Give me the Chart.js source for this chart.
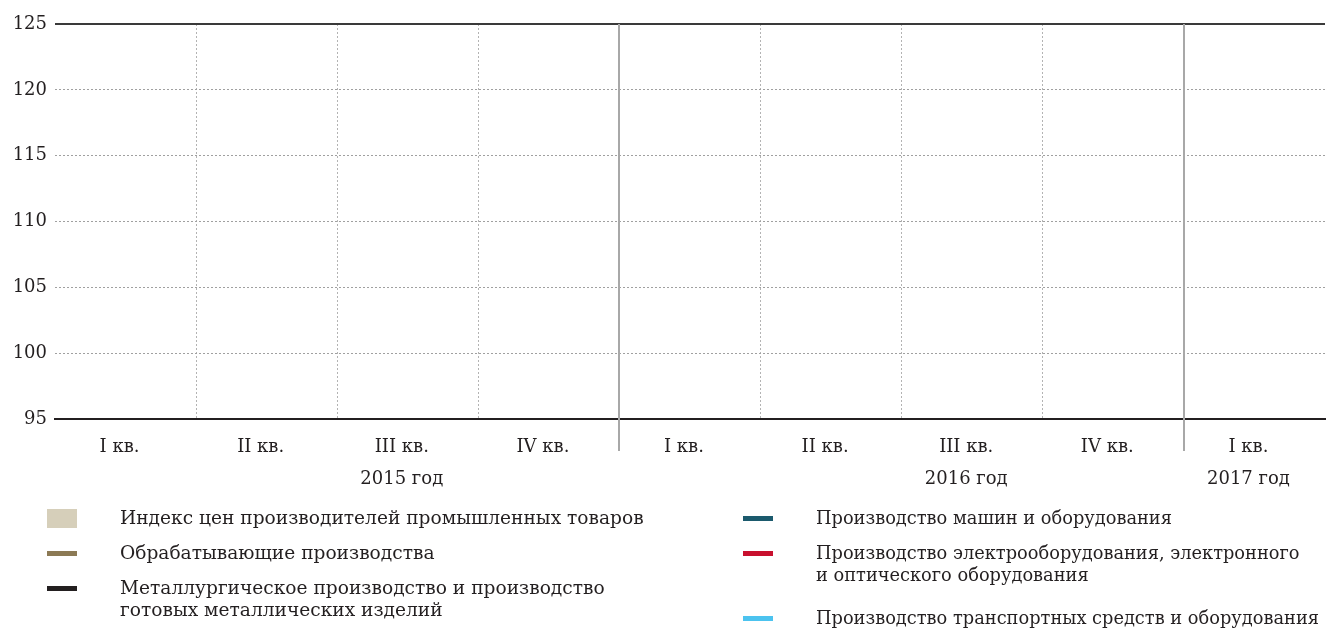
<!DOCTYPE html>
<html lang="ru">
<head>
<meta charset="utf-8">
<script src="https://cdn.jsdelivr.net/npm/chart.js@4"></script>
<style>
  html, body { margin: 0; padding: 0; background: #fff; }
  body {
    width: 1327px; height: 629px; position: relative; overflow: hidden;
    font-family: "DejaVu Serif", serif; color: #231f20;
  }
  #chartBox { position: absolute; left: 0; top: 0; width: 1327px; height: 494px; }
  #legend { position: absolute; left: 0; top: 0; width: 1327px; height: 629px; }
  .item { position: absolute; display: flex; align-items: flex-start; line-height: 22px; white-space: pre; }
  .swatch { width: 30px; margin-right: 43px; flex: none; }
</style>
</head>
<body>
<div id="chartBox"><canvas id="chart" width="1327" height="494"></canvas></div>
<div id="legend"></div>

<script>
// categories
const quarters = ["I кв.", "II кв.", "III кв.", "IV кв.", "I кв.", "II кв.", "III кв.", "IV кв.", "I кв."];
const years = ["", "", "2015 год", "", "", "", "2016 год", "", "2017 год"];

// value axis
const yMin = 95;
const yMax = 125;
const yStep = 5;

// series (the reference shows no marks, only the frame and the legend)
const seriesNames = [
  "Индекс цен производителей промышленных товаров",
  "Обрабатывающие производства",
  "Металлургическое производство и производство\nготовых металлических изделий",
  "Производство машин и оборудования",
  "Производство электрооборудования, электронного\nи оптического оборудования",
  "Производство транспортных средств и оборудования"
];
const ppiValues = [null, null, null, null, null, null, null, null, null];
const manufacturingValues = [null, null, null, null, null, null, null, null, null];
const metallurgyValues = [null, null, null, null, null, null, null, null, null];
const machineryValues = [null, null, null, null, null, null, null, null, null];
const electricalValues = [null, null, null, null, null, null, null, null, null];
const transportValues = [null, null, null, null, null, null, null, null, null];

const seriesColors = ["#d6cfba", "#8c7a55", "#231f20", "#1b5a6d", "#c8102e", "#4cc3ef"];

// legend layout (two columns, like the original)
const legendSlots = [
  { left: 47, top: 507, size: 18.6 },
  { left: 47, top: 542, size: 18.6 },
  { left: 47, top: 577, size: 18.6 },
  { left: 743, top: 507, size: 17.8 },
  { left: 743, top: 542, size: 17.8 },
  { left: 743, top: 607, size: 17.8 }
];

const textColor = "#231f20";
const tickFont = { family: "DejaVu Serif", size: 18, lineHeight: 1.75 };

// solid top rule and year separators, placed with the chart's own scales
const frameLines = {
  id: "frameLines",
  afterDraw(chart) {
    const { ctx, chartArea, scales } = chart;
    const x = scales.x;
    const y = scales.y;
    ctx.save();

    const yTop = y.getPixelForValue(yMax);
    ctx.strokeStyle = "#3a3a3a";
    ctx.lineWidth = 2;
    ctx.beginPath();
    ctx.moveTo(chartArea.left, yTop);
    ctx.lineTo(chartArea.right, yTop);
    ctx.stroke();

    ctx.strokeStyle = "#a8a8a8";
    ctx.lineWidth = 2;
    quarters.forEach((q, i) => {
      if (i === 0 || q !== quarters[0]) return;
      const px = Math.round((x.getPixelForValue(i - 1) + x.getPixelForValue(i)) / 2);
      ctx.beginPath();
      ctx.moveTo(px, chartArea.top);
      ctx.lineTo(px, chartArea.bottom + 32);
      ctx.stroke();
    });
    ctx.restore();
  }
};

const ctx = document.getElementById("chart").getContext("2d");
const chart = new Chart(ctx, {
  type: "bar",
  data: {
    labels: quarters.map((q, i) => [q, years[i]]),
    datasets: [
      { type: "bar", label: seriesNames[0], data: ppiValues, backgroundColor: seriesColors[0] },
      { type: "line", label: seriesNames[1], data: manufacturingValues, borderColor: seriesColors[1], borderWidth: 5, pointRadius: 0 },
      { type: "line", label: seriesNames[2], data: metallurgyValues, borderColor: seriesColors[2], borderWidth: 5, pointRadius: 0 },
      { type: "line", label: seriesNames[3], data: machineryValues, borderColor: seriesColors[3], borderWidth: 5, pointRadius: 0 },
      { type: "line", label: seriesNames[4], data: electricalValues, borderColor: seriesColors[4], borderWidth: 5, pointRadius: 0 },
      { type: "line", label: seriesNames[5], data: transportValues, borderColor: seriesColors[5], borderWidth: 5, pointRadius: 0 }
    ]
  },
  options: {
    responsive: false,
    animation: false,
    layout: { padding: { top: 24, right: 2, left: 0, bottom: 0 } },
    plugins: {
      legend: { display: false },
      tooltip: { enabled: false }
    },
    scales: {
      x: {
        offset: true,
        grid: {
          offset: true,
          drawTicks: false,
          color: (c) => (c.type !== "tick" || c.index === 0) ? "transparent" : "#b3b3b3"
        },
        border: { display: true, color: "#231f20", width: 2, dash: [2, 2] },
        ticks: { color: textColor, font: tickFont, padding: 13, maxRotation: 0, autoSkip: false, labelOffset: -6 },
        afterFit: (scale) => { scale.height = 75; }
      },
      y: {
        min: yMin,
        max: yMax,
        ticks: { stepSize: yStep, color: textColor, font: { family: "DejaVu Serif", size: 18 }, padding: 8 },
        grid: {
          drawTicks: false,
          color: (c) => (c.tick && (c.tick.value === yMin || c.tick.value === yMax)) ? "transparent" : "#a0a0a0"
        },
        border: { display: false, dash: [2, 2] },
        afterFit: (scale) => { scale.width = 55; }
      }
    }
  },
  plugins: [frameLines]
});

// HTML legend built from the chart's datasets
const legendEl = document.getElementById("legend");
chart.data.datasets.forEach((ds, i) => {
  const slot = legendSlots[i];
  const item = document.createElement("div");
  item.className = "item";
  item.style.left = slot.left + "px";
  item.style.top = slot.top + "px";
  item.style.fontSize = slot.size + "px";
  const sw = document.createElement("span");
  sw.className = "swatch";
  if (ds.type === "bar") {
    sw.style.height = "19px";
    sw.style.marginTop = "2px";
    sw.style.background = ds.backgroundColor;
  } else {
    sw.style.height = "5px";
    sw.style.marginTop = "9px";
    sw.style.background = ds.borderColor;
  }
  const txt = document.createElement("span");
  txt.textContent = ds.label;
  item.appendChild(sw);
  item.appendChild(txt);
  legendEl.appendChild(item);
});
</script>
</body>
</html>
